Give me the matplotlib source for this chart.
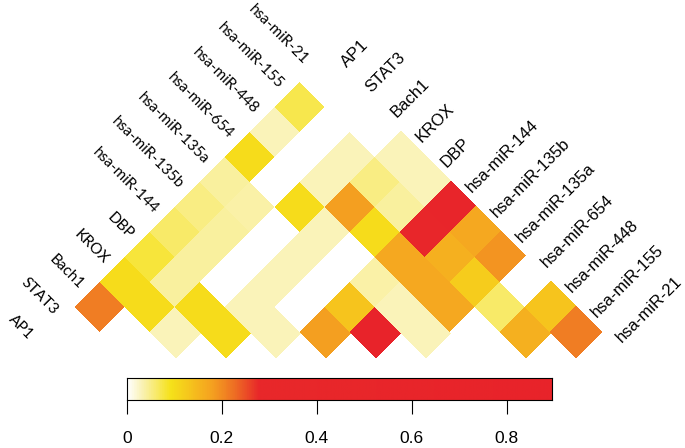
import matplotlib
matplotlib.use('Agg')
import matplotlib.pyplot as plt
from matplotlib.colors import LinearSegmentedColormap
import numpy as np

labels = ['AP1', 'STAT3', 'Bach1', 'KROX', 'DBP', 'hsa-miR-144', 'hsa-miR-135b',
          'hsa-miR-135a', 'hsa-miR-654', 'hsa-miR-448', 'hsa-miR-155', 'hsa-miR-21']

# lower triangle, row i = left label, column j = right label (j < i)
row_stat3 = [0.0]
row_bach1 = [0.21, 0.0]
row_krox = [0.10, 0.10, 0.03]
row_dbp = [0.08, 0.04, 0.10, 0.10]
row_mir144 = [0.06, 0.04, 0.0, 0.03, 0.03]
row_mir135b = [0.05, 0.04, 0.0, 0.03, 0.0, 0.18]
row_mir135a = [0.04, 0.035, 0.0, 0.03, 0.0, 0.13, 0.89]
row_mir654 = [0.10, 0.0, 0.10, 0.03, 0.0, 0.035, 0.03, 0.03]
row_mir448 = [0.03, 0.0, 0.03, 0.18, 0.10, 0.17, 0.17, 0.17, 0.0]
row_mir155 = [0.07, 0.0, 0.03, 0.05, 0.04, 0.50, 0.16, 0.12, 0.06, 0.16]
row_mir21 = [0.0, 0.0, 0.0, 0.03, 0.03, 0.60, 0.17, 0.19, 0.0, 0.13, 0.21]

rows = [[], row_stat3, row_bach1, row_krox, row_dbp, row_mir144, row_mir135b,
        row_mir135a, row_mir654, row_mir448, row_mir155, row_mir21]

cbar_ticks = [0, 0.2, 0.4, 0.6, 0.8]
cbar_ticklabels = ['0', '0.2', '0.4', '0.6', '0.8']
vmax = 0.895

n = len(labels)
mat = np.full((n, n), np.nan)
for i, r in enumerate(rows):
    for j, val in enumerate(r):
        mat[i, j] = val
mat = np.ma.masked_invalid(mat)

cmap = LinearSegmentedColormap.from_list('ld', [
    (0.0, '#FFFFFF'),
    (0.03 / vmax, '#FAF2B4'),
    (0.09 / vmax, '#F6E21A'),
    (0.175 / vmax, '#F5A320'),
    (0.225 / vmax, '#EE6E24'),
    (0.275 / vmax, '#E8282A'),
    (1.0, '#E8232A')])

fig = plt.figure(figsize=(6.85, 4.48), dpi=100)
ax = fig.add_axes([0, 0, 1, 1])

# rotate the matrix 45 degrees: corner (a, b) -> x = a + b, y = a - b
a, b = np.meshgrid(np.arange(n + 1), np.arange(n + 1), indexing='ij')
X = a + b
Y = a - b
ax.pcolormesh(X, Y, mat, cmap=cmap, vmin=0, vmax=vmax,
              edgecolors='face', linewidth=0.3)

ax.set_xlim(-1.04, 26.36)
ax.set_ylim(-3.64, 14.28)
ax.axis('off')

d_left = 0.3
d_right = 0.2
for k, lab in enumerate(labels):
    # left side labels along the upper-left edge
    ax.text(k + 0.5 - d_left, k + 0.5 + d_left, lab, rotation=-45,
            rotation_mode='anchor', ha='right', va='center',
            fontsize=11, family='Lato')
    # right side labels along the upper-right edge
    ax.text(n + 0.5 + k + d_right, n - 0.5 - k + d_right, lab, rotation=45,
            rotation_mode='anchor', ha='left', va='center',
            fontsize=12, family='Liberation Sans')

cax = fig.add_axes([126.7 / 685, 1 - 400 / 448, 425 / 685, 22 / 448])
grad = np.linspace(0, vmax, 500).reshape(1, -1)
cax.imshow(grad, aspect='auto', cmap=cmap, vmin=0, vmax=vmax,
           extent=[0, vmax, 0, 1])
cax.set_yticks([])
cax.set_xticks(cbar_ticks)
cax.set_xticklabels(cbar_ticklabels, family='Liberation Sans', fontsize=12.5)
cax.tick_params(axis='x', length=10, width=0.8, pad=12)
for s in cax.spines.values():
    s.set_linewidth(0.8)

fig.savefig('out.png', dpi=100)
